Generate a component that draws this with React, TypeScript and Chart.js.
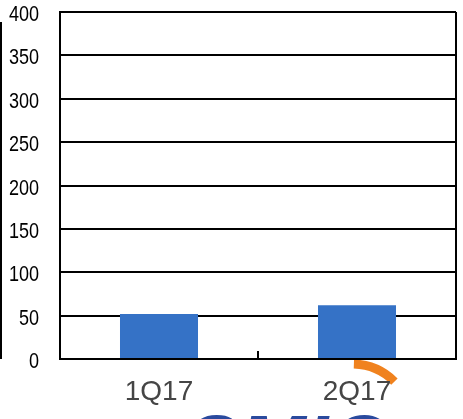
import React, { useEffect, useRef } from "react";
import { Chart, registerables } from "chart.js";

Chart.register(...registerables);

const categories: string[] = ["1Q17", "2Q17"];
const values: number[] = [52, 62];
const yMin = 0;
const yMax = 400;
const yStep = 50;
const watermarkText = "SMIC";

const framePlugin = {
  id: "framePlugin",
  beforeDraw(chart: any) {
    const { ctx } = chart;
    ctx.save();
    // faint logo watermark under the axis labels
    ctx.strokeStyle = "#F0821E";
    ctx.lineWidth = 9;
    ctx.beginPath();
    ctx.arc(352, 424, 60, -Math.PI * 0.49, -Math.PI * 0.25);
    ctx.stroke();
    ctx.fillStyle = "#2A4A9E";
    ctx.font = "italic bold 80px 'Liberation Sans', Arial, sans-serif";
    ctx.textAlign = "left";
    ctx.textBaseline = "alphabetic";
    ctx.fillText(watermarkText, 186, 471);
    ctx.restore();
  },
  afterDraw(chart: any) {
    const { ctx, chartArea, scales } = chart;
    const x = scales.x;
    const y = scales.y;
    ctx.save();
    ctx.strokeStyle = "#000";
    ctx.lineWidth = 2;
    // right border
    ctx.beginPath();
    ctx.moveTo(chartArea.right, chartArea.top);
    ctx.lineTo(chartArea.right, chartArea.bottom);
    ctx.stroke();
    // tick between categories
    for (let i = 0; i < categories.length - 1; i++) {
      const mx = Math.round((x.getPixelForValue(i) + x.getPixelForValue(i + 1)) / 2);
      ctx.beginPath();
      ctx.moveTo(mx, chartArea.bottom);
      ctx.lineTo(mx, chartArea.bottom - 8);
      ctx.stroke();
    }
    // neighbouring frame edge at far left
    ctx.beginPath();
    ctx.moveTo(1, chartArea.top + 10);
    ctx.lineTo(1, chartArea.bottom);
    ctx.stroke();
    // condensed y tick labels
    ctx.fillStyle = "#000";
    ctx.font = "22px 'Liberation Sans', Arial, sans-serif";
    ctx.textAlign = "right";
    ctx.textBaseline = "middle";
    const rightEdge = chartArea.left - 21;
    for (const t of y.ticks) {
      const py = y.getPixelForValue(t.value) + 3;
      ctx.save();
      ctx.translate(rightEdge, py);
      ctx.scale(0.82, 1);
      ctx.fillText(String(t.value), 0, 0);
      ctx.restore();
    }
    ctx.restore();
  },
};

export default function App() {
  const ref = useRef<HTMLCanvasElement | null>(null);
  useEffect(() => {
    document.body.style.margin = "0";
    const canvas = ref.current!;
    const chart = new Chart(canvas, {
      type: "bar",
      data: {
        labels: categories,
        datasets: [
          {
            data: values,
            backgroundColor: "#3572C6",
            borderWidth: 0,
            categoryPercentage: 1,
            barPercentage: 0.394,
          },
        ],
      },
      options: {
        responsive: false,
        animation: false,
        layout: { padding: { left: 0, top: 12, right: 7, bottom: 0 } },
        plugins: {
          legend: { display: false },
          tooltip: { enabled: false },
        },
        scales: {
          x: {
            type: "category",
            offset: true,
            grid: { display: false },
            border: { display: true, color: "#000", width: 2 },
            ticks: {
              color: "#454545",
              font: { family: "'Liberation Sans', Arial, sans-serif", size: 28 },
              padding: 8,
              maxRotation: 0,
            },
            afterFit(scale: any) {
              scale.height = 60;
              scale.paddingLeft = 0;
              scale.paddingRight = 0;
            },
          },
          y: {
            min: yMin,
            max: yMax,
            ticks: {
              stepSize: yStep,
              display: false,
            },
            grid: { color: "#000", lineWidth: 2, drawTicks: false },
            border: { display: true, color: "#000", width: 2 },
            afterFit(scale: any) {
              scale.width = 60;
              scale.paddingTop = 0;
              scale.paddingBottom = 0;
            },
          },
        },
      },
      plugins: [framePlugin],
    });
    return () => chart.destroy();
  }, []);
  return <canvas ref={ref} width={463} height={419} style={{ display: "block" }} />;
}
